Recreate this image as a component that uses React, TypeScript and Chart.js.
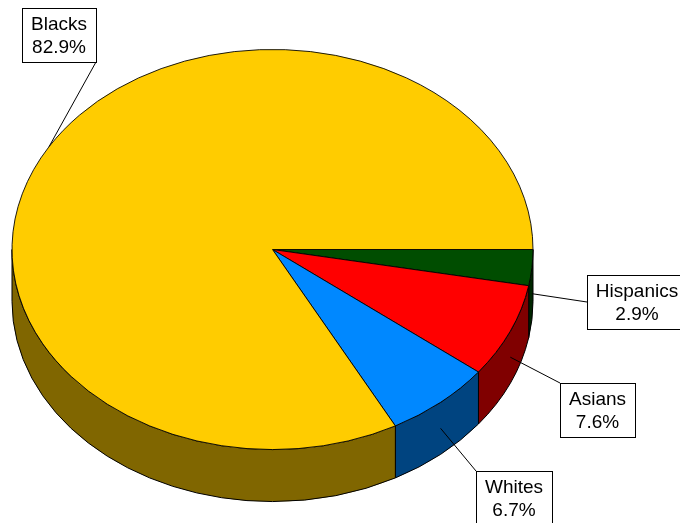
import React, { useEffect, useRef } from 'react';
import { Chart, registerables } from 'chart.js';

Chart.register(...registerables);

const categories = ['Hispanics', 'Asians', 'Whites', 'Blacks'];
const shares = [2.9, 7.6, 6.7, 82.9];
const topColors = ['#004D00', '#FF0000', '#0088FF', '#FFCC00'];
const sideColors = ['#002600', '#800000', '#004480', '#806600'];

// label box layout (top-left corner) and where the leader line meets the box
const labelBoxes = [
  { x: 587, y: 275, attach: 'l' },
  { x: 560, y: 383, attach: 'tl' },
  { x: 476, y: 471, attach: 'tl' },
  { x: 22, y: 8, attach: 'br' },
];

const LABEL_FONT = '19px "Liberation Sans", Arial, sans-serif';

const pie3d = {
  id: 'pie3d',
  beforeDatasetsDraw(chart: any, _args: any, opts: any) {
    const meta = chart.getDatasetMeta(0);
    const first = meta.data[0];
    const cx = first.x;
    const cy0 = first.y;
    const rx = first.outerRadius;
    const ry = rx * opts.tilt;
    const cy = opts.centerY;
    const d = opts.depth;
    const ctx = chart.ctx as CanvasRenderingContext2D;
    ctx.save();
    meta.data.forEach((arc: any, i: number) => {
      for (const k of [-2 * Math.PI, 0, 2 * Math.PI]) {
        const s = arc.startAngle + k;
        const e = arc.endAngle + k;
        const a1 = Math.max(s, 0);
        const a2 = Math.min(e, Math.PI);
        if (a2 <= a1) continue;
        ctx.beginPath();
        ctx.ellipse(cx, cy, rx, ry, 0, a1, a2, false);
        ctx.lineTo(cx + rx * Math.cos(a2), cy + ry * Math.sin(a2) + d);
        ctx.ellipse(cx, cy + d, rx, ry, 0, a2, a1, true);
        ctx.closePath();
        ctx.fillStyle = sideColors[i];
        ctx.fill();
        ctx.lineWidth = 1;
        ctx.strokeStyle = '#000';
        ctx.stroke();
      }
    });
    ctx.restore();
    ctx.save();
    ctx.translate(cx, cy);
    ctx.scale(1, ry / rx);
    ctx.translate(-cx, -cy0);
  },
  afterDatasetsDraw(chart: any, _args: any, opts: any) {
    const ctx = chart.ctx as CanvasRenderingContext2D;
    ctx.restore();
    const meta = chart.getDatasetMeta(0);
    const first = meta.data[0];
    const cx = first.x;
    const rx = first.outerRadius;
    const ry = rx * opts.tilt;
    const cy = opts.centerY;
    const d = opts.depth;
    const values = chart.data.datasets[0].data as number[];
    const labels = chart.data.labels as string[];
    ctx.save();
    ctx.font = LABEL_FONT;
    meta.data.forEach((arc: any, i: number) => {
      const mid = (arc.startAngle + arc.endAngle) / 2;
      let ax = cx + rx * Math.cos(mid);
      let ay = cy + ry * Math.sin(mid);
      if (Math.sin(mid) > 0) ay += d / 2;
      const lines = [labels[i], values[i].toFixed(1) + '%'];
      const tw = Math.max(...lines.map((l) => ctx.measureText(l).width));
      const box = labelBoxes[i];
      const w = Math.round(tw + 18);
      const h = 54;
      let px = box.x;
      let py = box.y;
      if (box.attach === 'l') { px = box.x; py = box.y + h / 2; }
      else if (box.attach === 'tl') { px = box.x; py = box.y; }
      else if (box.attach === 'br') { px = box.x + w; py = box.y + h; }
      ctx.beginPath();
      ctx.moveTo(ax, ay);
      ctx.lineTo(px, py);
      ctx.strokeStyle = '#000';
      ctx.lineWidth = 1;
      ctx.stroke();
      ctx.fillStyle = '#fff';
      ctx.fillRect(box.x + 0.5, box.y + 0.5, w, h);
      ctx.strokeRect(box.x + 0.5, box.y + 0.5, w, h);
      ctx.fillStyle = '#000';
      ctx.textAlign = 'center';
      ctx.textBaseline = 'alphabetic';
      ctx.fillText(lines[0], box.x + w / 2, box.y + 22);
      ctx.fillText(lines[1], box.x + w / 2, box.y + 45);
    });
    ctx.restore();
  },
};

export default function App() {
  const ref = useRef<HTMLCanvasElement | null>(null);
  useEffect(() => {
    document.body.style.margin = '0';
    const chart = new Chart(ref.current as HTMLCanvasElement, {
      type: 'pie',
      data: {
        labels: categories,
        datasets: [
          {
            data: shares,
            backgroundColor: topColors,
            borderColor: '#000',
            borderWidth: 1,
          },
        ],
      },
      options: {
        animation: false,
        responsive: true,
        maintainAspectRatio: false,
        rotation: 90,
        layout: { padding: { left: 11.5, right: 146.5, top: 0, bottom: 1 } },
        events: [],
        plugins: {
          legend: { display: false },
          tooltip: { enabled: false },
          pie3d: { tilt: 0.768, depth: 52, centerY: 249.5 },
        } as any,
      },
      plugins: [pie3d],
    });
    return () => chart.destroy();
  }, []);
  return (
    <div style={{ width: 680, height: 523, position: 'relative' }}>
      <canvas ref={ref} />
    </div>
  );
}
